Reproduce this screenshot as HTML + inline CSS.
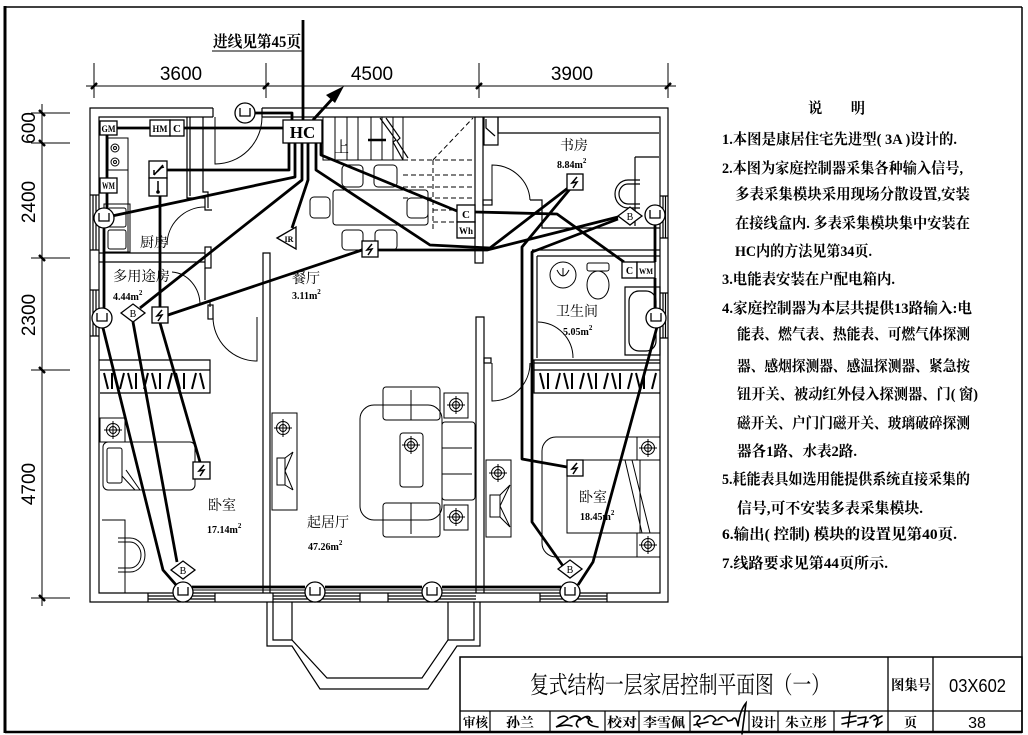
<!DOCTYPE html>
<html><head><meta charset="utf-8">
<style>
html,body{margin:0;padding:0;background:#fff;}
svg{display:block;}
.s{font-family:"Liberation Serif","Noto Serif CJK SC",serif;}
.n{font-family:"Liberation Sans","Noto Sans CJK SC",sans-serif;}
</style></head><body>
<svg width="1028" height="735" viewBox="0 0 1028 735" xmlns="http://www.w3.org/2000/svg">
<rect width="1028" height="735" fill="#fff"/>
<!-- frame -->
<g fill="none" stroke="#000">
<line x1="5" y1="7" x2="1022" y2="7" stroke-width="1.5"/>
<line x1="5" y1="6" x2="5" y2="733" stroke-width="3"/>
<line x1="1022" y1="7" x2="1022" y2="733" stroke-width="1.5"/>
<line x1="5" y1="732" x2="1022" y2="732" stroke-width="2.5"/>
</g>

<!-- top dimension -->
<g stroke="#000" fill="none">
<line x1="86" y1="86" x2="676" y2="86" stroke-width="1"/>
<line x1="94" y1="63" x2="94" y2="98"/>
<line x1="266" y1="63" x2="266" y2="98"/>
<line x1="479" y1="63" x2="479" y2="98"/>
<line x1="668" y1="63" x2="668" y2="98"/>
<g stroke-width="2.5">
<line x1="91" y1="89" x2="97" y2="83"/>
<line x1="263" y1="89" x2="269" y2="83"/>
<line x1="476" y1="89" x2="482" y2="83"/>
<line x1="665" y1="89" x2="671" y2="83"/>
</g>
</g>
<g class="n" font-size="19" text-anchor="middle" fill="#000">
<text x="181" y="80">3600</text>
<text x="372" y="80">4500</text>
<text x="572" y="80">3900</text>
</g>

<!-- left dimension -->
<g stroke="#000" fill="none">
<line x1="42" y1="104" x2="42" y2="606"/>
<line x1="31" y1="113" x2="70" y2="113"/>
<line x1="31" y1="143" x2="70" y2="143"/>
<line x1="31" y1="258" x2="70" y2="258"/>
<line x1="31" y1="370" x2="70" y2="370"/>
<line x1="31" y1="598" x2="70" y2="598"/>
<g stroke-width="2.5">
<line x1="39" y1="110" x2="45" y2="116"/>
<line x1="39" y1="140" x2="45" y2="146"/>
<line x1="39" y1="255" x2="45" y2="261"/>
<line x1="39" y1="367" x2="45" y2="373"/>
<line x1="39" y1="595" x2="45" y2="601"/>
</g>
</g>
<g class="n" font-size="19" text-anchor="middle" fill="#000">
<text transform="translate(35,128) rotate(-90)">600</text>
<text transform="translate(35,202) rotate(-90)">2400</text>
<text transform="translate(35,315) rotate(-90)">2300</text>
<text transform="translate(35,484) rotate(-90)">4700</text>
</g>

<!-- incoming line label -->
<text class="s" x="213" y="47" font-size="16" font-weight="bold" textLength="88" lengthAdjust="spacingAndGlyphs">进线见第45页</text>
<line x1="212" y1="51" x2="304" y2="51" stroke="#000" stroke-width="1"/>

<!-- ===== building walls ===== -->
<g fill="none" stroke="#000" stroke-width="1.2">
<path d="M213,108 H90 V602 H668 V108 H262"/>
<path d="M213,117 H99 V593 H660 V117 H262"/>
<line x1="213" y1="108" x2="213" y2="117"/>
<line x1="262" y1="108" x2="262" y2="117"/>
<path d="M93,195 V250 M96,195 V250 M93,290 V336 M96,290 V336"/>
<path d="M90,195 H99 M90,250 H99 M90,290 H99 M90,336 H99"/>
<path d="M663,196 V238 M665.5,196 V238 M663,293 V338 M665.5,293 V338"/>
<path d="M660,196 H668 M660,238 H668 M660,293 H668 M660,338 H668"/>
<path d="M148,596 H215 M148,599 H215 M273,596 H360 M273,599 H360 M388,596 H476 M388,599 H476 M540,596 H607 M540,599 H607"/>
<path d="M148,593 V602 M215,593 V602 M273,593 V602 M360,593 V602 M388,593 V602 M540,593 V602 M607,593 V602"/>
<path d="M475,117 V263 H483 V117"/>
<path d="M476,593 V317 H484 V593"/>
<path d="M263,593 V253 H270 V593"/>
<path d="M187,117 V198 H205 V210 H212 M190,117 V196 M203,117 V192 H208 V208"/>
<path d="M99,253 H205 M99,262 H205"/>
<rect x="205" y="247" width="6" height="21"/>
<path d="M205,268 V300 M210,300 V307"/>
<rect x="208" y="305" width="5" height="14"/>
<path d="M99,360 H210 V393 H100"/>
<line x1="100" y1="370" x2="210" y2="370"/>
<path d="M534,360 V393 H660"/>
<line x1="534" y1="363" x2="660" y2="363"/>
<line x1="534" y1="370" x2="660" y2="370"/>
<path d="M532,253 V360 H660 M537,256 V358"/>
<path d="M532,250 H660 M537,256 H660"/>
<path d="M625,287 H660 V355 H625 Z"/>
<rect x="629" y="291" width="27" height="60" rx="10"/>
<path d="M530,200 H542 V228 H660"/>
<path d="M498,117 V133 H659"/>
<path d="M484,117 V145 H498 V117 M486,119 L486,128 L495,136"/>
<path d="M635,157 H659 M635,157 V226"/>
<path d="M640,180 H628 A13,14 0 0 0 628,208 H640 M640,184 H628 A9,10 0 0 0 628,204 H640"/>
<rect x="483" y="200" width="9" height="5"/>
<rect x="484" y="358" width="7" height="5"/>
</g>

<!-- doors -->
<g fill="none" stroke="#000" stroke-width="1">
<path d="M215,117 V164 A47,47 0 0 0 262,117"/>
<path d="M205,207 A38,38 0 0 0 167,245"/>
<path d="M257,317 V361 A44,44 0 0 1 213,317"/>
<path d="M172,272 A30,33 0 0 1 200,305"/>
<path d="M538,322 A36,36 0 0 1 573,358"/>
<path d="M492,363 V401 A38,38 0 0 0 530,363"/>
<path d="M492,202 V165 A38,37 0 0 1 530,200"/>
</g>

<!-- bay window -->
<g fill="none" stroke="#000" stroke-width="1.2">
<path d="M267,602 V646 H292 L320,689 H428 L457,646 H480 V602"/>
<path d="M292,602 V640 L327,678 H422 L448,640 V602"/>
<path d="M273,602 V640 H292 M474,602 V640 H448"/>
</g>

<!-- stairs -->
<g fill="none" stroke="#000" stroke-width="1">
<path d="M323,117 V160 H403"/>
<path d="M335,117 V160 M347,117 V160 M358,117 V160 M371,117 V160 M382,117 V160 M393,117 V160 M403,117 V160"/>
<path d="M380,118 L396,140 L393,142 L403,160 M386,118 L400,138 L397,141 L408,158" stroke-width="1.2"/>
<line x1="368" y1="140" x2="386" y2="140" stroke-width="2.5"/>
<g stroke-dasharray="5,3">
<path d="M403,160 H475 M403,175 H475 M403,187 H475 M403,198 H475 M433,210 H475 M433,222 H457"/>
<path d="M433,160 V232 M433,160 L473,118"/>
</g>
</g>
<text class="s" x="334" y="152" font-size="15" fill="#000">上</text>

<!-- furniture -->
<g fill="none" stroke="#000" stroke-width="1">
<rect x="333" y="190" width="95" height="35" rx="3"/>
<rect x="342" y="165" width="21" height="22" rx="4"/>
<rect x="374" y="165" width="23" height="22" rx="4"/>
<rect x="342" y="230" width="21" height="20" rx="4"/>
<rect x="375" y="230" width="22" height="20" rx="4"/>
<rect x="310" y="197" width="20" height="21" rx="4"/>
<rect x="407" y="198" width="21" height="20" rx="4"/>
<rect x="108" y="138" width="20" height="32"/>
<circle cx="115" cy="148" r="4"/><circle cx="115" cy="148" r="1.5"/>
<circle cx="115" cy="162" r="4"/><circle cx="115" cy="162" r="1.5"/>
<rect x="104" y="204" width="26" height="48"/>
<rect x="108" y="208" width="18" height="19" rx="2"/>
<rect x="108" y="230" width="18" height="19" rx="2"/>
<line x1="128" y1="138" x2="128" y2="252"/>
<rect x="360" y="405" width="82" height="115" rx="14"/>
<rect x="383" y="387" width="57" height="33" rx="3"/>
<line x1="411" y1="390" x2="411" y2="420"/>
<rect x="383" y="503" width="57" height="34" rx="3"/>
<line x1="411" y1="503" x2="411" y2="534"/>
<rect x="442" y="422" width="33" height="78" rx="3"/>
<path d="M442,448 H472 M442,474 H472"/>
<rect x="400" y="433" width="23" height="54" rx="3"/>
<rect x="444" y="393" width="24" height="25"/>
<rect x="444" y="505" width="24" height="25"/>
<rect x="486" y="460" width="25" height="77"/>
<rect x="272" y="413" width="25" height="97"/>
<path d="M490,495 H500 V517 H490 Z M500,495 L510,485 M500,517 L510,527 M510,485 L500,506 L510,527"/>
<path d="M277,458 H285 V485 H277 Z M285,458 L293,452 M285,485 L293,490 M293,452 L285,471 L293,490"/>
<rect x="103" y="442" width="92" height="48" rx="5"/>
<rect x="107" y="448" width="15" height="35" rx="2"/>
<path d="M126,470 L140,490 M122,476 L135,490"/>
<rect x="100" y="418" width="25" height="24"/>
<path d="M102,520 H125 V593"/>
<path d="M118,538 H130 A15,17 0 0 1 130,572 H118 M118,542 H130 A11,13 0 0 1 130,568 H118"/>
<path d="M660,437 H556 A14,14 0 0 0 542,451 V543 A14,14 0 0 0 556,557 H660"/>
<rect x="567" y="460" width="93" height="73"/>
<path d="M637,437 V460 M637,533 V557 M640,460 V533"/>
<path d="M625,460 L642,533 M632,460 L650,533"/>
<circle cx="563" cy="275" r="13"/>
<path d="M557,270 Q563,282 569,270 M563,268 V276"/>
<ellipse cx="598" cy="285" rx="11" ry="14"/>
<rect x="587" y="263" width="22" height="8" rx="2"/>
</g>

<!-- wardrobes hangers -->
<path stroke="#000" stroke-width="2" fill="none" d="M104,373L108,389 M112,373L112,389 M120,389L124,373 M128,373L132,389 M136,373L136,389 M144,389L148,373 M152,373L156,389 M160,373L160,389 M168,389L172,373 M176,373L180,389 M184,373L184,389 M192,389L196,373 M200,373L204,389"/>
<path stroke="#000" stroke-width="2" fill="none" d="M540,373L544,389 M548,373L548,389 M556,389L560,373 M564,373L568,389 M572,373L572,389 M580,389L584,373 M588,373L592,389 M596,373L596,389 M604,389L608,373 M612,373L616,389 M620,373L620,389 M628,389L632,373 M636,373L640,389 M644,373L644,389 M652,389L656,373"/>

<!-- lamps -->
<g fill="none" stroke="#000" stroke-width="1">
<g transform="translate(113,430)"><circle r="6.5"/><circle r="3.5"/><path d="M-9,0H9M0,-9V9"/></g>
<g transform="translate(283,428)"><circle r="6.5"/><circle r="3.5"/><path d="M-9,0H9M0,-9V9"/></g>
<g transform="translate(411,445)"><circle r="6.5"/><circle r="3.5"/><path d="M-9,0H9M0,-9V9"/></g>
<g transform="translate(456,405)"><circle r="6.5"/><circle r="3.5"/><path d="M-9,0H9M0,-9V9"/></g>
<g transform="translate(456,517)"><circle r="6.5"/><circle r="3.5"/><path d="M-9,0H9M0,-9V9"/></g>
<g transform="translate(498,473)"><circle r="6.5"/><circle r="3.5"/><path d="M-9,0H9M0,-9V9"/></g>
<g transform="translate(648,448)"><circle r="6.5"/><circle r="3.5"/><path d="M-9,0H9M0,-9V9"/></g>
<g transform="translate(648,545)"><circle r="6.5"/><circle r="3.5"/><path d="M-9,0H9M0,-9V9"/></g>
</g>

<!-- ===== wiring ===== -->
<g fill="none" stroke="#000" stroke-width="2.8" stroke-linejoin="round">
<path d="M303,20 V120"/>
<path d="M313,120 L334,97"/>
<path d="M117,128 H150"/>
<path d="M184,128 H283"/>
<path d="M255,113 H292 V120"/>
<path d="M289,143 V170 H167"/>
<path d="M295,143 V177 L112,216"/>
<path d="M302,143 V180 L140,308"/>
<path d="M308,143 V180 L292,228"/>
<path d="M316,143 V170 L430,245 L490,248 L568,188"/>
<path d="M321,143 V155 L457,211"/>
<path d="M475,212 L557,214 L624,262"/>
<path d="M362,250 L168,315"/>
<path d="M378,250 L487,250 L618,217"/>
<path d="M570,189 L522,247 V459 L567,467"/>
<path d="M618,219 L532,252 V522 L563,566"/>
<path d="M107,135 V178 M107,193 V208"/>
<path d="M104,228 V308"/>
<path d="M103,328 L163,570 L177,586"/>
<path d="M133,322 L177,562"/>
<path d="M160,307 V196"/>
<path d="M160,323 L200,462"/>
<path d="M192,587 H305 M325,587 H422 M442,587 H561"/>
<path d="M578,585 L593,562 L657,327"/>
<path d="M655,225 V262 M655,278 V308"/>
</g>
<path d="M192,590 H562" stroke="#000" stroke-width="1" fill="none"/>
<polygon points="344,86 335,103 326,95" fill="#000"/>

<!-- symbols -->
<g fill="#fff" stroke="#000" stroke-width="1.3">
<rect x="283" y="120" width="39" height="23"/>
<rect x="100" y="121" width="17" height="14"/>
<rect x="150" y="120" width="20" height="16"/>
<rect x="170" y="120" width="14" height="16"/>
<rect x="100" y="178" width="17" height="15"/>
<rect x="149" y="161" width="18" height="17"/>
<rect x="149" y="178" width="18" height="18"/>
<rect x="457" y="205" width="18" height="17"/>
<rect x="457" y="222" width="18" height="16"/>
<rect x="622" y="262" width="15" height="16"/>
<rect x="637" y="262" width="18" height="16"/>
<polygon points="277,238 296,227 296,249"/>
<g transform="translate(245,113)"><circle r="10"/><path d="M-5,-5V3H5V-5" fill="none"/></g>
<g transform="translate(104,218)"><circle r="10"/><path d="M-5,-5V3H5V-5" fill="none"/></g>
<g transform="translate(102,318)"><circle r="10"/><path d="M-5,-5V3H5V-5" fill="none"/></g>
<g transform="translate(183,592)"><circle r="10"/><path d="M-5,-5V3H5V-5" fill="none"/></g>
<g transform="translate(315,592)"><circle r="10"/><path d="M-5,-5V3H5V-5" fill="none"/></g>
<g transform="translate(432,592)"><circle r="10"/><path d="M-5,-5V3H5V-5" fill="none"/></g>
<g transform="translate(570,592)"><circle r="10"/><path d="M-5,-5V3H5V-5" fill="none"/></g>
<g transform="translate(655,215)"><circle r="10"/><path d="M-5,-5V3H5V-5" fill="none"/></g>
<g transform="translate(656,318)"><circle r="10"/><path d="M-5,-5V3H5V-5" fill="none"/></g>
<polygon points="121,313 133,304 145,313 133,322"/>
<polygon points="171,570 183,561 195,570 183,579"/>
<polygon points="618,216 630,207 642,216 630,225"/>
<polygon points="558,569 570,560 582,569 570,578"/>
<rect x="152" y="307" width="16" height="16"/>
<rect x="193" y="462" width="17" height="17"/>
<rect x="362" y="241" width="16" height="16"/>
<rect x="567" y="174" width="16" height="16"/>
<rect x="567" y="460" width="16" height="16"/>
</g>
<g fill="none" stroke="#000" stroke-width="1.5">
<path d="M162,310 L157,316 L162,315 L158,321"/>
<path d="M204,465 L199,471 L204,470 L200,476"/>
<path d="M372,244 L367,250 L372,249 L368,255"/>
<path d="M577,177 L572,183 L577,182 L573,188"/>
<path d="M577,463 L572,469 L577,468 L573,474"/>
<path d="M154,175 L163,165 M154,175 L154,170 M157,172 L161,168 M160,168 L164,167"/>
<path d="M158,181 V192"/>
</g>
<circle cx="158" cy="192" r="1.8" fill="#000"/>

<g class="s" fill="#000" text-anchor="middle" font-weight="bold">
<text x="302.5" y="138" font-size="17">HC</text>
<text x="108.5" y="132" font-size="9" textLength="14" lengthAdjust="spacingAndGlyphs">GM</text>
<text x="160" y="132" font-size="9" textLength="15" lengthAdjust="spacingAndGlyphs">HM</text>
<text x="177" y="132" font-size="11">C</text>
<text x="108.5" y="189" font-size="9" textLength="13" lengthAdjust="spacingAndGlyphs">WM</text>
<text x="466" y="218" font-size="11">C</text>
<text x="466" y="234" font-size="9" textLength="14" lengthAdjust="spacingAndGlyphs">Wh</text>
<text x="629.5" y="274" font-size="10">C</text>
<text x="646" y="274" font-size="8" textLength="14" lengthAdjust="spacingAndGlyphs">WM</text>
<text x="289" y="242" font-size="8">IR</text>
<text x="133" y="317" font-size="10" font-weight="normal">B</text>
<text x="183" y="574" font-size="10" font-weight="normal">B</text>
<text x="630" y="220" font-size="10" font-weight="normal">B</text>
<text x="570" y="573" font-size="10" font-weight="normal">B</text>
</g>

<g class="s" fill="#000">
<text x="140" y="247" font-size="14">厨房</text>
<text x="113" y="281" font-size="14" textLength="57" lengthAdjust="spacingAndGlyphs">多用途房</text>
<text x="113" y="300" font-size="10" font-weight="bold">4.44m<tspan font-size="7" dy="-5">2</tspan></text>
<text x="292" y="283" font-size="14">餐厅</text>
<text x="292" y="299" font-size="10" font-weight="bold">3.11m<tspan font-size="7" dy="-5">2</tspan></text>
<text x="208" y="510" font-size="14">卧室</text>
<text x="207" y="533" font-size="10" font-weight="bold">17.14m<tspan font-size="7" dy="-5">2</tspan></text>
<text x="307" y="527" font-size="14">起居厅</text>
<text x="308" y="550" font-size="10" font-weight="bold">47.26m<tspan font-size="7" dy="-5">2</tspan></text>
<text x="560" y="150" font-size="14">书房</text>
<text x="557" y="168" font-size="10" font-weight="bold">8.84m<tspan font-size="7" dy="-5">2</tspan></text>
<text x="556" y="316" font-size="14">卫生间</text>
<text x="563" y="335" font-size="10" font-weight="bold">5.05m<tspan font-size="7" dy="-5">2</tspan></text>
<text x="579" y="502" font-size="14">卧室</text>
<text x="580" y="520" font-size="10" font-weight="bold">18.45m<tspan font-size="7" dy="-5">2</tspan></text>
</g>

<!-- notes -->
<g class="s" fill="#000" font-size="15" font-weight="bold">
<text x="808" y="113" textLength="57" lengthAdjust="spacingAndGlyphs">说　　明</text>
<text x="722" y="144" textLength="235" lengthAdjust="spacingAndGlyphs">1.本图是康居住宅先进型( 3A )设计的.</text>
<text x="722" y="173" textLength="241" lengthAdjust="spacingAndGlyphs">2.本图为家庭控制器采集各种输入信号,</text>
<text x="735" y="199" textLength="235" lengthAdjust="spacingAndGlyphs">多表采集模块采用现场分散设置,安装</text>
<text x="735" y="228" textLength="235" lengthAdjust="spacingAndGlyphs">在接线盒内. 多表采集模块集中安装在</text>
<text x="735" y="256" textLength="137" lengthAdjust="spacingAndGlyphs">HC内的方法见第34页.</text>
<text x="722" y="284" textLength="173" lengthAdjust="spacingAndGlyphs">3.电能表安装在户配电箱内.</text>
<text x="722" y="313" textLength="250" lengthAdjust="spacingAndGlyphs">4.家庭控制器为本层共提供13路输入:电</text>
<text x="737" y="339" textLength="233" lengthAdjust="spacingAndGlyphs">能表、燃气表、热能表、可燃气体探测</text>
<text x="737" y="371" textLength="233" lengthAdjust="spacingAndGlyphs">器、感烟探测器、感温探测器、紧急按</text>
<text x="737" y="399" textLength="241" lengthAdjust="spacingAndGlyphs">钮开关、被动红外侵入探测器、门( 窗)</text>
<text x="737" y="428" textLength="233" lengthAdjust="spacingAndGlyphs">磁开关、户门门磁开关、玻璃破碎探测</text>
<text x="737" y="456" textLength="120" lengthAdjust="spacingAndGlyphs">器各1路、水表2路.</text>
<text x="722" y="484" textLength="248" lengthAdjust="spacingAndGlyphs">5.耗能表具如选用能提供系统直接采集的</text>
<text x="737" y="513" textLength="186" lengthAdjust="spacingAndGlyphs">信号,可不安装多表采集模块.</text>
<text x="722" y="539" textLength="235" lengthAdjust="spacingAndGlyphs">6.输出( 控制) 模块的设置见第40页.</text>
<text x="722" y="568" textLength="166" lengthAdjust="spacingAndGlyphs">7.线路要求见第44页所示.</text>
</g>

<!-- title block -->
<g fill="none" stroke="#000">
<rect x="460" y="657" width="562" height="75" stroke-width="1.5"/>
<line x1="460" y1="711" x2="1022" y2="711" stroke-width="1.3"/>
<line x1="888" y1="657" x2="888" y2="732" stroke-width="1.3"/>
<line x1="933" y1="657" x2="933" y2="732" stroke-width="1.3"/>
<g stroke-width="1.2">
<line x1="490" y1="711" x2="490" y2="732"/>
<line x1="550" y1="711" x2="550" y2="732"/>
<line x1="605" y1="711" x2="605" y2="732"/>
<line x1="639" y1="711" x2="639" y2="732"/>
<line x1="690" y1="711" x2="690" y2="732"/>
<line x1="749" y1="711" x2="749" y2="732"/>
<line x1="778" y1="711" x2="778" y2="732"/>
<line x1="834" y1="711" x2="834" y2="732"/>
</g>
</g>
<g class="s" fill="#000">
<text x="530" y="693" font-size="24" textLength="300" lengthAdjust="spacingAndGlyphs">复式结构一层家居控制平面图（一）</text>
<text x="891" y="690" font-size="14" font-weight="bold" textLength="40" lengthAdjust="spacingAndGlyphs">图集号</text>
<text x="949" y="692" font-size="18" class="n" textLength="57" lengthAdjust="spacingAndGlyphs">03X602</text>
<g font-size="13" font-weight="bold">
<text x="463" y="727" textLength="25" lengthAdjust="spacingAndGlyphs">审核</text>
<text x="506" y="727" textLength="28" lengthAdjust="spacingAndGlyphs">孙兰</text>
<text x="607" y="727" textLength="30" lengthAdjust="spacingAndGlyphs">校对</text>
<text x="643" y="727" textLength="42" lengthAdjust="spacingAndGlyphs">李雪佩</text>
<text x="751" y="727" textLength="25" lengthAdjust="spacingAndGlyphs">设计</text>
<text x="785" y="727" textLength="42" lengthAdjust="spacingAndGlyphs">朱立彤</text>
<text x="904" y="727">页</text>
</g>
<text x="977" y="728" font-size="16" class="n" text-anchor="middle">38</text>
</g>
<g fill="none" stroke="#000" stroke-width="1.6" stroke-linecap="round">
<path d="M558,718 Q566,714 568,719 Q560,725 556,727 Q566,724 572,726 M570,718 Q576,714 580,718 Q574,724 578,727 M580,720 Q588,714 590,718 Q584,725 598,727 M586,717 L592,722"/>
<path d="M694,717 Q700,714 700,719 Q694,723 700,727 M704,719 Q712,712 716,720 Q708,726 722,724 M718,720 Q724,713 728,721 L732,720 Q736,714 738,726 M738,726 Q740,710 746,703 L742,734 M694,725 L708,722"/>
<path d="M842,718 L856,716 M850,712 L848,727 M842,724 L856,721 M858,718 L866,717 M858,725 L868,722 M866,717 L864,727 M870,718 Q876,712 878,720 L876,727 M874,720 L882,716 M876,726 L882,722"/>
</g>
</svg>
</body></html>
